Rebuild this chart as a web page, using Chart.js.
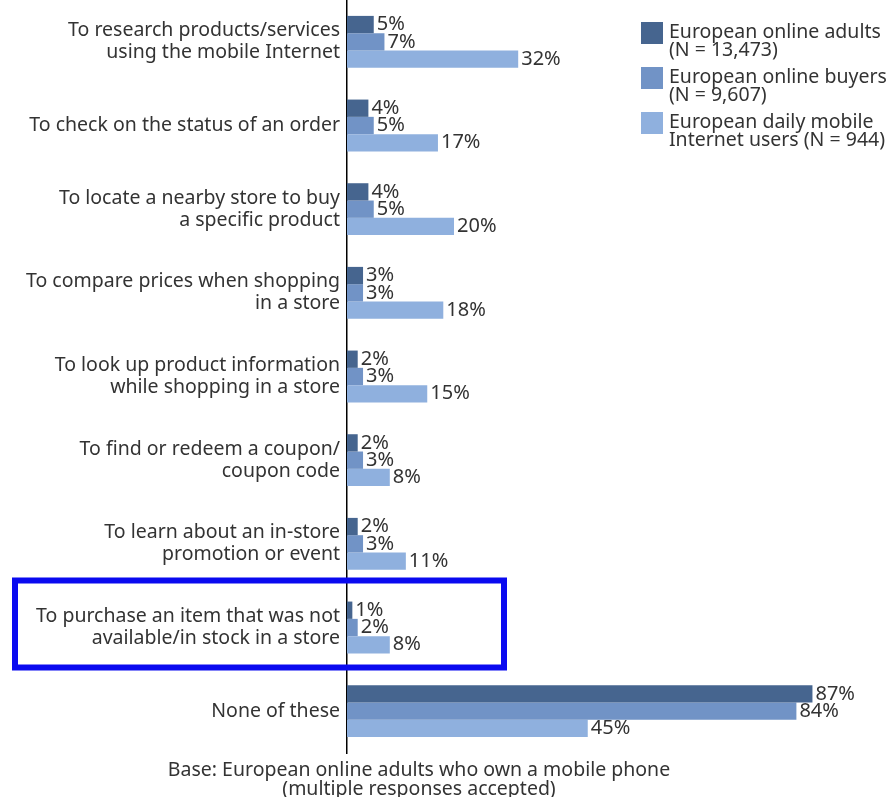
<!DOCTYPE html>
<html lang="en">
<head>
  <meta charset="UTF-8">
  <title>Mobile shopping activities</title>
  <script src="https://cdn.jsdelivr.net/npm/chart.js"></script>
  <style>
    html, body { margin: 0; padding: 0; background: #fff; }
    #wrap { position: relative; width: 892px; height: 797px; }
  </style>
</head>
<body>
  <div id="wrap"><canvas id="chart" width="892" height="797"></canvas></div>

  <script>
    const categories = [
      ['To research products/services', 'using the mobile Internet'],
      ['To check on the status of an order'],
      ['To locate a nearby store to buy', 'a specific product'],
      ['To compare prices when shopping', 'in a store'],
      ['To look up product information', 'while shopping in a store'],
      ['To find or redeem a coupon/', 'coupon code'],
      ['To learn about an in-store', 'promotion or event'],
      ['To purchase an item that was not', 'available/in stock in a store'],
      ['None of these']
    ];
    const onlineAdults = [5, 4, 4, 3, 2, 2, 2, 1, 87];
    const onlineBuyers = [7, 5, 5, 3, 3, 3, 3, 2, 84];
    const mobileUsers = [32, 17, 20, 18, 15, 8, 11, 8, 45];
    const seriesLabels = [
      ['European online adults', '(N = 13,473)'],
      ['European online buyers', '(N = 9,607)'],
      ['European daily mobile', 'Internet users (N = 944)']
    ];
    const seriesColors = ['#46658f', '#7193c6', '#8fb0de'];
    const footnote = ['Base: European online adults who own a mobile phone', '(multiple responses accepted)'];

    const FONT = '"Noto Sans", sans-serif';
    const TEXT = '#333333';

    // value labels at the end of each bar
    const valueLabels = {
      id: 'valueLabels',
      afterDatasetsDraw(chart) {
        const ctx = chart.ctx;
        ctx.save();
        ctx.font = '20px ' + FONT;
        ctx.fillStyle = TEXT;
        ctx.textAlign = 'left';
        ctx.textBaseline = 'middle';
        chart.data.datasets.forEach((ds, i) => {
          chart.getDatasetMeta(i).data.forEach((bar, j) => {
            ctx.fillText(ds.data[j] + '%', bar.x + 3, bar.y);
          });
        });
        ctx.restore();
      }
    };

    // legend, footnote and the highlight box
    const extras = {
      id: 'extras',
      afterDraw(chart) {
        const ctx = chart.ctx;
        ctx.save();
        ctx.font = '19.5px ' + FONT;
        ctx.textBaseline = 'middle';
        ctx.textAlign = 'left';
        seriesLabels.forEach((lines, i) => {
          const top = 22 + i * 45;
          ctx.fillStyle = seriesColors[i];
          ctx.fillRect(641, top, 22, 22);
          ctx.fillStyle = TEXT;
          lines.forEach((l, k) => ctx.fillText(l, 669, top + 10 + k * 18));
        });

        ctx.textAlign = 'center';
        footnote.forEach((l, k) => ctx.fillText(l, 419, 770 + k * 19));

        // highlight box around the 8th category
        const y = chart.scales.y;
        const c = y.getPixelForValue(7);
        ctx.strokeStyle = '#0a0af0';
        ctx.lineWidth = 6;
        ctx.strokeRect(15, c - 47, 489, 87);
        ctx.restore();
      }
    };

    new Chart(document.getElementById('chart'), {
      type: 'bar',
      data: {
        labels: categories,
        datasets: [onlineAdults, onlineBuyers, mobileUsers].map((d, i) => ({
          label: seriesLabels[i].join(' '),
          data: d,
          backgroundColor: seriesColors[i],
          barPercentage: 1,
          categoryPercentage: 0.62
        }))
      },
      options: {
        indexAxis: 'y',
        responsive: false,
        animation: false,
        layout: { padding: { left: 0, right: 10, top: 0, bottom: 44 } },
        plugins: { legend: { display: false }, tooltip: { enabled: false } },
        scales: {
          x: { display: false, min: 0, max: 100 },
          y: {
            grid: { display: false, drawTicks: false },
            border: { display: true, color: '#000', width: 1.5 },
            ticks: { color: TEXT, font: { family: FONT, size: 19.5, lineHeight: 1.13 }, padding: 7 },
            afterFit(scale) {
              scale.width = 347;
              scale.paddingTop = 0;
              scale.paddingBottom = 0;
            }
          }
        }
      },
      plugins: [valueLabels, extras]
    });
  </script>
</body>
</html>
